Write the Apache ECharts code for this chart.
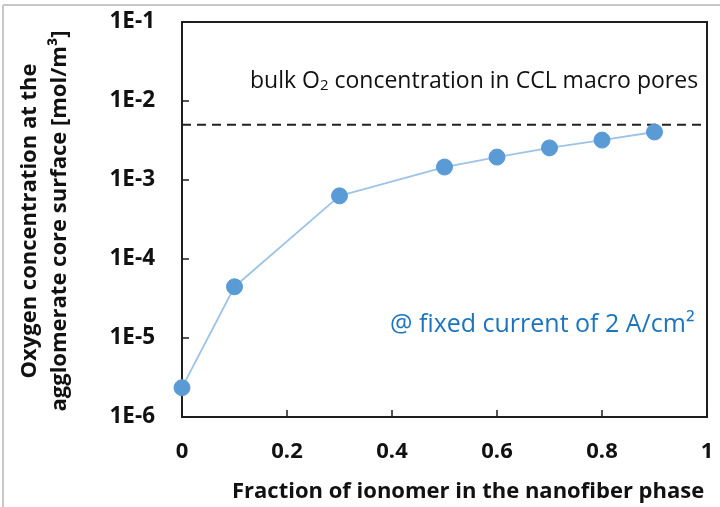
<!DOCTYPE html>
<html>
<head>
<meta charset="utf-8">
<script src="https://cdn.jsdelivr.net/npm/echarts@6/dist/echarts.min.js"></script>
<style>
  html, body { margin: 0; padding: 0; background: #fff; }
  #chart { width: 720px; height: 507px; }
</style>
</head>
<body>
<div id="chart"></div>
<script>
// Ionomer fraction in the nanofiber phase
const ionomerFraction = [0, 0.1, 0.3, 0.5, 0.6, 0.7, 0.8, 0.9];
// O2 concentration at the agglomerate core surface [mol/m3]
const coreO2 = [2.35e-6, 4.45e-5, 6.3e-4, 1.46e-3, 1.95e-3, 2.55e-3, 3.2e-3, 4.05e-3];
// Bulk O2 concentration in the CCL macro pores [mol/m3]
const bulkO2 = 5e-3;
const bulkSpan = [0, 1];

const FONT = '"Open Sans", "Noto Sans", sans-serif';
const chart = echarts.init(document.getElementById('chart'), null, { renderer: 'canvas' });

const option = {
  backgroundColor: '#ffffff',
  animation: false,
  grid: {
    left: 182, right: 13, top: 22, bottom: 90,
    outerBoundsMode: 'none',
    show: true, borderColor: '#1e1e1e', borderWidth: 2
  },
  xAxis: {
    type: 'value', min: 0, max: 1, interval: 0.2,
    axisLine: { show: true, lineStyle: { color: '#1e1e1e', width: 2 } },
    axisTick: { show: true, inside: true, length: 7, lineStyle: { color: '#1e1e1e', width: 1.5 } },
    axisLabel: { margin: 24, color: '#111', fontFamily: FONT, fontWeight: 'bold', fontSize: 22,
      formatter: v => String(Math.round(v * 10) / 10) },
    splitLine: { show: false }
  },
  yAxis: {
    type: 'log', logBase: 10, min: 1e-6, max: 1e-1,
    axisLine: { show: true, lineStyle: { color: '#1e1e1e', width: 2 } },
    axisTick: { show: true, inside: true, length: 7, lineStyle: { color: '#1e1e1e', width: 1.5 } },
    minorTick: { show: false },
    axisLabel: { margin: 27, color: '#111', fontFamily: FONT, fontWeight: 'bold', fontSize: 22.5,
      formatter: v => '1E' + Math.round(Math.log10(v)) },
    splitLine: { show: false }
  },
  series: [
    {
      type: 'line',
      data: bulkSpan.map(x => [x, bulkO2]),
      symbol: 'none',
      lineStyle: { color: '#222', width: 2, type: [9, 6] },
      z: 2
    },
    {
      type: 'line',
      data: ionomerFraction.map((x, i) => [x, coreO2[i]]),
      symbol: 'circle', symbolSize: 16,
      itemStyle: { color: '#5B9BD5', borderColor: '#5B9BD5', borderWidth: 1 },
      lineStyle: { color: '#9DC3E6', width: 1.8 },
      z: 3
    }
  ],
  graphic: [
    // light frame around the figure
    { type: 'line', shape: { x1: 3, y1: 5, x2: 720, y2: 5 }, style: { stroke: '#c8c8c8', lineWidth: 2 } },
    { type: 'line', shape: { x1: 3, y1: 5, x2: 3, y2: 507 }, style: { stroke: '#c8c8c8', lineWidth: 2 } },
    {
      type: 'text', left: 250, top: 70,
      style: {
        text: 'bulk O{sub|2} concentration in CCL macro pores',
        fill: '#111', font: '23px ' + FONT,
        rich: {
          sub: { fontSize: 15, fontFamily: FONT, verticalAlign: 'bottom', lineHeight: 14, fill: '#111' }
        }
      }
    },
    {
      type: 'text', left: 390, top: 312,
      style: { text: '@ fixed current of 2 A/cm²', fill: '#1B75BE', font: '25px ' + FONT }
    },
    {
      type: 'text', left: 232, top: 481,
      style: { text: 'Fraction of ionomer in the nanofiber phase', fill: '#111', font: 'bold 22px ' + FONT }
    },
    {
      type: 'text', x: 15, y: 221, rotation: Math.PI / 2,
      style: {
        text: 'Oxygen concentration at the\nagglomerate core surface [mol/m³]',
        fill: '#111', font: 'bold 22px ' + FONT, lineHeight: 30,
        align: 'center', verticalAlign: 'top'
      }
    }
  ]
};
chart.setOption(option);
</script>
</body>
</html>
